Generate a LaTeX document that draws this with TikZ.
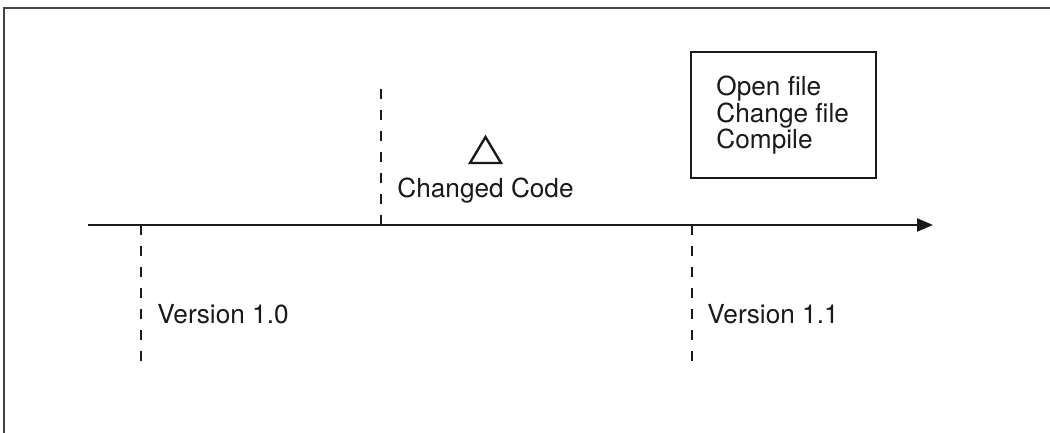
\documentclass[tikz,border=0pt]{standalone}
\usepackage{fontspec}
\setmainfont{TeX Gyre Heros}
\usetikzlibrary{arrows.meta}
\definecolor{ink}{HTML}{1A1A1A}
\definecolor{framegray}{HTML}{444444}
\begin{document}
\begin{tikzpicture}[x=0.5pt,y=-0.5pt,
  axisline/.style={draw=ink, line width=1.2pt, -{Triangle[length=8pt,width=6.5pt]}},
  tickline/.style={draw=ink, line width=1.4pt, dash pattern=on 5pt off 5.5pt},
  frameline/.style={draw=framegray, line width=1pt},
  lbl/.style={anchor=base west, inner sep=0pt, text=ink, font=\fontsize{13.1}{13.25}\selectfont},
  stepbox/.style={draw=ink, line width=1.25pt, minimum width=92.5pt, minimum height=63pt, inner sep=0pt},
  marker/.style={draw=ink, line width=1.2pt, line join=miter}]
\useasboundingbox (0,0) rectangle (1050,433);
% frame (top and left edges)
\coordinate (ftr) at (1050,8);
\coordinate (ftl) at (4,8);
\coordinate (fbl) at (4,433);
\draw[frameline] (ftr) -- (ftl) -- (fbl);
% axis
\coordinate (axstart) at (88,225);
\coordinate (axend) at (933,225);
\draw[axisline] (axstart) -- (axend);
% ticks
\coordinate (v10a) at (141,225);
\coordinate (v10b) at (141,363);
\coordinate (cca) at (381,225);
\coordinate (ccb) at (381,86);
\coordinate (v11a) at (692,225);
\coordinate (v11b) at (692,363);
\draw[tickline] (v10a) -- (v10b);
\draw[tickline] (cca) -- (ccb);
\draw[tickline] (v11a) -- (v11b);
% labels
\node[lbl] (v10) at (157,323) {Version 1.0};
\node[lbl] (v11) at (707,323) {Version 1.1};
\node[lbl] (cc) at (397,198) {Changed Code};
% delta marker
\coordinate (tl) at (470,163);
\coordinate (tt) at (485.5,137);
\coordinate (tr) at (501,163);
\draw[marker] (tl) -- (tt) -- (tr) -- cycle;
% steps box
\node[stepbox] (steps) at (783.5,115) {};
\node[lbl, anchor=north west, align=left] (stepstext) at (716,76) {Open file\\Change file\\Compile};
\end{tikzpicture}
\end{document}
